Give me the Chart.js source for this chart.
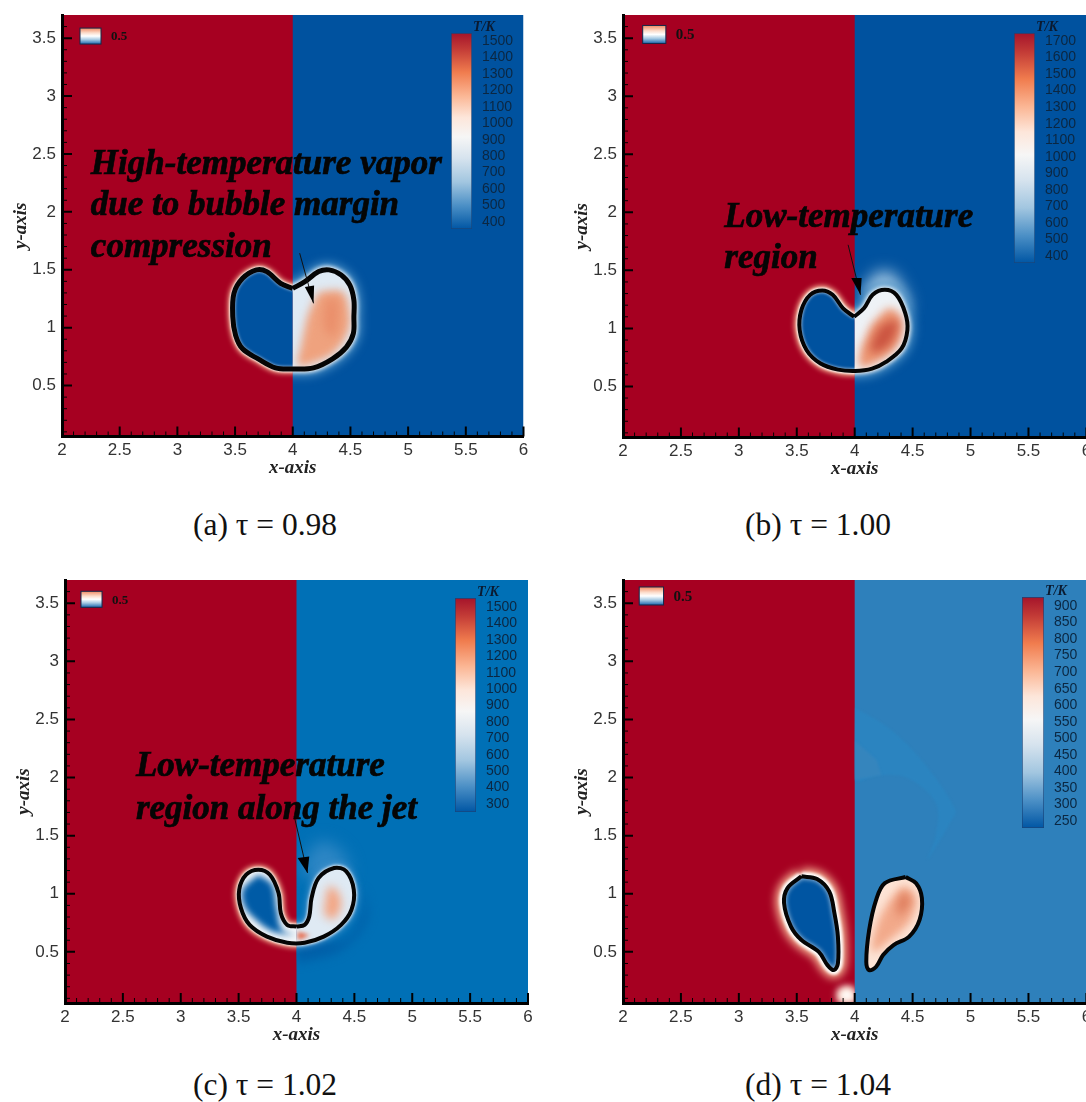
<!DOCTYPE html>
<html>
<head>
<meta charset="utf-8">
<script src="https://cdn.jsdelivr.net/npm/chart.js@4"></script>
<style>
html, body { margin: 0; padding: 0; background: #fff; width: 1086px; height: 1102px; overflow: hidden; }
canvas { position: absolute; filter: blur(0.5px); }
.caption { position: absolute; transform: translate(-50%, -50%); font: 31.5px "Liberation Serif", serif; color: #111; white-space: nowrap; }
</style>
</head>
<body>
<script>
// axis values
const xMajor = [2, 2.5, 3, 3.5, 4, 4.5, 5, 5.5, 6]
const xMinor = [2.1, 2.2, 2.3, 2.4, 2.6, 2.7, 2.8, 2.9, 3.1, 3.2, 3.3, 3.4, 3.6, 3.7, 3.8, 3.9, 4.1, 4.2, 4.3, 4.4, 4.6, 4.7, 4.8, 4.9, 5.1, 5.2, 5.3, 5.4, 5.6, 5.7, 5.8, 5.9]
const yMajor = [0.5, 1, 1.5, 2, 2.5, 3, 3.5]
const yMinor = [0.1, 0.2, 0.3, 0.4, 0.6, 0.7, 0.8, 0.9, 1.1, 1.2, 1.3, 1.4, 1.6, 1.7, 1.8, 1.9, 2.1, 2.2, 2.3, 2.4, 2.6, 2.7, 2.8, 2.9, 3.1, 3.2, 3.3, 3.4, 3.6]
const xMin = 2, xMid = 4, xMax = 6, yMin = 0.06, yMax = 3.7

// colour bar tick labels
const ticksA = [400, 500, 600, 700, 800, 900, 1000, 1100, 1200, 1300, 1400, 1500]
const ticksB = [400, 500, 600, 700, 800, 900, 1000, 1100, 1200, 1300, 1400, 1500, 1600, 1700]
const ticksC = [300, 400, 500, 600, 700, 800, 900, 1000, 1100, 1200, 1300, 1400, 1500]
const ticksD = [250, 300, 350, 400, 450, 500, 550, 600, 650, 700, 750, 800, 850, 900]

// bubble contours, [x, y]
const bubbleA = [[4,1.339],[4.105,1.397],[4.225,1.484],[4.315,1.499],[4.42,1.455],[4.495,1.368],[4.53,1.238],[4.53,1.093],[4.525,0.948],[4.465,0.832],[4.345,0.73],[4.18,0.652],[4,0.643],[3.85,0.652],[3.7,0.73],[3.565,0.817],[3.505,0.933],[3.48,1.093],[3.49,1.296],[3.565,1.426],[3.685,1.499],[3.775,1.484],[3.895,1.383],[4,1.339]]
const bubbleB = [[3.995,1.1],[4.08,1.173],[4.155,1.289],[4.26,1.332],[4.36,1.289],[4.437,1.13],[4.455,0.986],[4.405,0.827],[4.27,0.711],[4.15,0.653],[4.003,0.633],[3.855,0.645],[3.705,0.697],[3.585,0.812],[3.525,0.986],[3.54,1.159],[3.615,1.289],[3.72,1.327],[3.81,1.289],[3.9,1.173],[3.995,1.1]]
const bubbleC = [[4,0.718],[4.07,0.732],[4.11,0.804],[4.13,0.963],[4.19,1.135],[4.325,1.222],[4.43,1.193],[4.495,1.035],[4.475,0.862],[4.385,0.732],[4.235,0.631],[4.07,0.579],[3.92,0.579],[3.745,0.631],[3.595,0.732],[3.52,0.876],[3.505,1.035],[3.565,1.164],[3.67,1.207],[3.77,1.164],[3.845,1.006],[3.865,0.833],[3.92,0.732],[4,0.718]]
const dropLeftD = [[3.54,1.15],[3.675,1.127],[3.78,1.02],[3.825,0.833],[3.855,0.631],[3.855,0.4],[3.82,0.343],[3.765,0.386],[3.69,0.5],[3.54,0.602],[3.45,0.718],[3.39,0.919],[3.42,1.049],[3.54,1.15]]
const dropRightD = [[4.44,1.144],[4.53,1.09],[4.58,0.963],[4.56,0.775],[4.47,0.631],[4.335,0.559],[4.245,0.473],[4.185,0.372],[4.125,0.343],[4.1,0.415],[4.125,0.689],[4.185,0.948],[4.26,1.092],[4.44,1.144]]

// hot and cold regions inside the bubbles
const coreA = [[4.225,1.31],[4.43,1.31],[4.49,1.151],[4.485,0.977],[4.365,0.79],[4.165,0.69],[4.045,0.675],[4.075,0.861],[4.105,1.006],[4.135,1.122],[4.225,1.31]]
const hotA = [[4.29,1.25],[4.38,1.25],[4.4,1.1],[4.36,0.93],[4.28,0.98],[4.27,1.12],[4.29,1.25]]
const coreB = [[4.14,1.03],[4.305,1.173],[4.41,1.072],[4.38,0.87],[4.245,0.74],[4.05,0.668],[4.05,0.812],[4.095,0.928],[4.14,1.03]]
const hotB = [[4.23,1.03],[4.37,1.07],[4.33,0.9],[4.23,0.81],[4.14,0.8],[4.17,0.93],[4.23,1.03]]
const coreC = [[4.235,0.833],[4.28,1.063],[4.355,1.02],[4.385,0.89],[4.31,0.775],[4.235,0.833]]
const spotC = [[4.01,0.674],[4.115,0.645],[4.04,0.608],[4.006,0.608],[4.01,0.674]]
const coldC = [[3.67,1.164],[3.79,1.078],[3.83,0.862],[3.875,0.689],[4,0.645],[3.8,0.674],[3.65,0.775],[3.55,0.89],[3.535,1.035],[3.67,1.164]]
const coreD = [[4.425,1.07],[4.53,0.98],[4.485,0.775],[4.305,0.602],[4.155,0.5],[4.185,0.718],[4.305,0.948],[4.425,1.07]]
const hotD = [[4.425,1.04],[4.485,0.93],[4.38,0.79],[4.365,0.9],[4.425,1.04]]
const blobD = [[3.855,0.17],[3.945,0.2],[4,0.155],[4,0.07],[3.87,0.07],[3.855,0.17]]
const haloB = [[4.05,1.3],[4.2,1.48],[4.35,1.45],[4.47,1.15],[4.2,1.2],[4.05,1.3]]
const haloC = [[4.02,1.2],[4.2,1.45],[4.4,1.35],[4.45,1.15],[4.2,1.1],[4.02,1.2]]
const shadeC = [[4,0.65],[4.4,0.6],[4.58,0.85],[4.56,1.05],[4.62,0.8],[4.4,0.52],[4.1,0.42],[4,0.42],[4,0.65]]
const arcOuterD = [[4,2.6],[4.3,2.42],[4.6,2.12],[4.87,1.72],[4.84,1.64],[4.63,1.3],[4.7,1.5],[4.7,1.78],[4.45,2],[4.2,2.02],[4,1.98],[4,2.6]]
const arcInnerD = [[4,2.32],[4.19,2.15],[4.23,2.02],[4,1.98],[4,2.32]]

// arrows, shaft then head
const shaftA = [[4.06,1.643],[4.18,1.21]]
const headA = [[4.18,1.21],[4.105,1.35],[4.185,1.365],[4.18,1.21]]
const shaftB = [[3.943,1.72],[4.05,1.289]]
const headB = [[4.05,1.289],[3.97,1.434],[4.06,1.434],[4.05,1.289]]
const shaftC = [[3.98,1.668],[4.095,1.179]]
const headC = [[4.095,1.179],[4.01,1.308],[4.11,1.32],[4.095,1.179]]

const rectOf = (x0, x1) => [[x0, yMin], [x0, yMax], [x1, yMax], [x1, yMin], [x0, yMin]]
const toXY = pts => pts.map(p => ({x: p[0], y: p[1]}))

function fillLayer(pts, color, blur, side) {
    return {data: toXY(pts), showLine: true, pointRadius: 0, tension: pts.length > 5 ? 0.35 : 0, borderWidth: 0, borderColor: 'transparent', backgroundColor: color, fill: 'shape', blur: blur, side: side}
}
function lineLayer(pts, color, width, blur, side) {
    return {data: toXY(pts), showLine: true, pointRadius: 0, tension: pts.length > 2 ? 0.35 : 0, borderWidth: width, borderColor: color, borderJoinStyle: 'round', fill: false, blur: blur, side: side}
}

const RED = '#a60021', COLD = '#00529f', WHITE = '#ffffff', PEACH = '#f6b493', ORANGE = '#efa27e', INK = '#050505'

const layersA = [
    fillLayer(rectOf(xMin, xMax), COLD),
    fillLayer(rectOf(xMin, xMid), RED),
    lineLayer(bubbleA, '#4f94c8', 14, 5, 'right'),
    lineLayer(bubbleA, WHITE, 7, 2, 'right'),
    lineLayer(bubbleA, PEACH, 9, 2.5, 'left'),
    lineLayer(bubbleA, WHITE, 5, 1, 'left'),
    fillLayer(bubbleA, COLD, 0, 'left'),
    lineLayer(bubbleA, 'rgba(255,255,255,0.7)', 5, 1.5, 'left'),
    fillLayer(bubbleA, '#dfeaf4', 0, 'right'),
    fillLayer(coreA, ORANGE, 4, 'right'),
    fillLayer(hotA, '#ea8f6b', 5, 'right'),
    lineLayer(bubbleA, INK, 5),
    lineLayer(shaftA, '#111', 1),
    fillLayer(headA, '#000')
]
const layersB = [
    fillLayer(rectOf(xMin, xMax), COLD),
    fillLayer(rectOf(xMin, xMid), RED),
    fillLayer(haloB, '#a9cbe5', 8, 'right'),
    lineLayer(bubbleB, '#4f94c8', 14, 5, 'right'),
    lineLayer(bubbleB, WHITE, 6, 2, 'right'),
    lineLayer(bubbleB, PEACH, 10, 2.5, 'left'),
    lineLayer(bubbleB, WHITE, 5, 1, 'left'),
    fillLayer(bubbleB, COLD, 0, 'left'),
    lineLayer(bubbleB, 'rgba(255,255,255,0.7)', 4.5, 1.5, 'left'),
    fillLayer(bubbleB, '#eef2f6', 0, 'right'),
    fillLayer(coreB, '#ec9470', 4, 'right'),
    fillLayer(hotB, '#cb5440', 5, 'right'),
    lineLayer(bubbleB, INK, 4),
    lineLayer(shaftB, '#111', 1),
    fillLayer(headB, '#000')
]
const layersC = [
    fillLayer(rectOf(xMin, xMax), '#0070b6'),
    fillLayer(rectOf(xMin, xMid), RED),
    fillLayer(haloC, '#2d86c4', 8, 'right'),
    fillLayer(shadeC, '#0060a9', 5, 'right'),
    lineLayer(bubbleC, '#4d97cf', 8, 3, 'right'),
    lineLayer(bubbleC, WHITE, 5, 1.5, 'right'),
    lineLayer(bubbleC, PEACH, 9, 2.5, 'left'),
    lineLayer(bubbleC, WHITE, 5, 1, 'left'),
    fillLayer(bubbleC, '#f4f7fa', 0, 'left'),
    fillLayer(coldC, '#005ba6', 3, 'left'),
    fillLayer(bubbleC, '#dfeaf4', 0, 'right'),
    fillLayer(coreC, '#f3a583', 5, 'right'),
    fillLayer(spotC, '#e8694a', 2, 'right'),
    lineLayer(bubbleC, INK, 4),
    lineLayer(shaftC, '#111', 1),
    fillLayer(headC, '#000')
]
const layersD = [
    fillLayer(rectOf(xMin, xMax), '#2e80bb'),
    fillLayer(rectOf(xMin, xMid), RED),
    fillLayer(arcOuterD, '#2b84c0', 1, 'right'),
    fillLayer(arcInnerD, '#3585bd', 1, 'right'),
    fillLayer(blobD, PEACH, 3, 'left'),
    fillLayer(blobD, WHITE, 4, 'left'),
    lineLayer(dropLeftD, PEACH, 17, 4, 'left'),
    lineLayer(dropLeftD, WHITE, 9, 1.5, 'left'),
    fillLayer(dropLeftD, '#0055a2', 0, 'left'),
    lineLayer(dropLeftD, 'rgba(255,255,255,0.6)', 5, 2, 'left'),
    fillLayer(dropRightD, '#fde4d6', 0, 'right'),
    fillLayer(coreD, '#f2a98a', 4, 'right'),
    fillLayer(hotD, '#dc7858', 5, 'right'),
    lineLayer(dropLeftD, INK, 4),
    lineLayer(dropRightD, INK, 4)
]

// page layout of each panel, in pixels
const panels = [
    {name: 'a', caption: '(a) τ = 0.98', capX: 265, capY: 525, left: 62, right: 523.5, top: 15, bottom: 436.5, layers: layersA, ticks: ticksA,
        tMin: 357, tMax: 1549, barL: 451, barR: 472, barT: 33, barB: 229, swatch: [2.156, 2.338, 3.449, 3.587], swatchFont: 13,
        notes: [['High-temperature vapor', 2.25, 2.327], ['due to bubble margin', 2.25, 1.974], ['compression', 2.25, 1.61]]},
    {name: 'b', caption: '(b) τ = 1.00', capX: 818, capY: 525, left: 622.6, right: 1086, top: 15, bottom: 437.5, layers: layersB, ticks: ticksB,
        tMin: 358, tMax: 1748, barL: 1014, barR: 1035, barT: 33, barB: 263, swatch: [2.17, 2.37, 3.455, 3.61], swatchFont: 15,
        notes: [['Low-temperature', 2.875, 1.877], ['region', 2.875, 1.52]]},
    {name: 'c', caption: '(c) τ = 1.02', capX: 265, capY: 1085, left: 65, right: 528, top: 580, bottom: 1003, layers: layersC, ticks: ticksC,
        tMin: 251, tMax: 1555, barL: 455, barR: 476, barT: 598, barB: 812, swatch: [2.138, 2.32, 3.465, 3.603], swatchFont: 13,
        notes: [['Low-temperature', 2.613, 2.011], ['region along the jet', 2.613, 1.64]]},
    {name: 'd', caption: '(d) τ = 1.04', capX: 818, capY: 1085, left: 622.6, right: 1086, top: 580, bottom: 1003, layers: layersD, ticks: ticksD,
        tMin: 229, tMax: 927, barL: 1021.5, barR: 1043, barT: 597, barB: 828, swatch: [2.14, 2.35, 3.485, 3.64], swatchFont: 15,
        notes: []}
]

// blur and half-plane clip for a dataset, has to run before the filler
const fieldLayer = {
    id: 'fieldLayer',
    beforeDatasetDraw(chart, args) {
        const ds = chart.data.datasets[args.index]
        const ctx = chart.ctx
        ctx.save()
        if (ds.side) {
            const a = chart.chartArea
            const mid = chart.scales.x.getPixelForValue(xMid)
            ctx.beginPath()
            if (ds.side === 'left') ctx.rect(a.left, a.top, mid - a.left, a.bottom - a.top)
            else ctx.rect(mid, a.top, a.right - mid, a.bottom - a.top)
            ctx.clip()
        }
        if (ds.blur) ctx.filter = 'blur(' + ds.blur + 'px)'
    },
    afterDatasetDraw(chart) {
        chart.ctx.restore()
    }
}
const filler = Chart.registry.getPlugin('filler')
Chart.unregister(filler)
Chart.register(fieldLayer)
Chart.register(filler)

// ticks pointing inwards, 0.5 legend and the annotations
const plotMarks = {
    id: 'plotMarks',
    afterDatasetsDraw(chart, args, opts) {
        const ctx = chart.ctx, xs = chart.scales.x, ys = chart.scales.y, a = chart.chartArea
        const s = opts.panel.swatch
        const sx = xs.getPixelForValue(s[0]), sr = xs.getPixelForValue(s[1])
        const st = ys.getPixelForValue(s[3]), sb = ys.getPixelForValue(s[2])
        const g = ctx.createLinearGradient(0, st, 0, sb)
        g.addColorStop(0, '#f08a62')
        g.addColorStop(0.3, '#fcdccb')
        g.addColorStop(0.5, '#ffffff')
        g.addColorStop(0.72, '#a8cbe4')
        g.addColorStop(1, '#1c68ae')
        ctx.fillStyle = g
        ctx.fillRect(sx, st, sr - sx, sb - st)
        ctx.strokeStyle = '#14284a'
        ctx.lineWidth = 1
        ctx.strokeRect(sx, st, sr - sx, sb - st)
        ctx.fillStyle = '#111'
        ctx.font = 'bold ' + opts.panel.swatchFont + 'px "Liberation Serif"'
        ctx.textBaseline = 'middle'
        ctx.textAlign = 'left'
        ctx.fillText('0.5', sr + 10, (st + sb) / 2 + 1)

        ctx.fillStyle = '#050505'
        ctx.strokeStyle = '#050505'
        ctx.lineWidth = 0.7
        ctx.font = 'italic bold 35px "Liberation Serif"'
        ctx.textBaseline = 'alphabetic'
        opts.panel.notes.forEach(n => {
            ctx.fillText(n[0], xs.getPixelForValue(n[1]), ys.getPixelForValue(n[2]))
            ctx.strokeText(n[0], xs.getPixelForValue(n[1]), ys.getPixelForValue(n[2]))
        })

        ctx.strokeStyle = '#000'
        const mark = (vals, horizontal, len, w) => {
            ctx.lineWidth = w
            ctx.beginPath()
            vals.forEach(v => {
                if (horizontal) {
                    const px = xs.getPixelForValue(v)
                    ctx.moveTo(px, a.bottom)
                    ctx.lineTo(px, a.bottom - len)
                } else {
                    const py = ys.getPixelForValue(v)
                    ctx.moveTo(a.left, py)
                    ctx.lineTo(a.left + len, py)
                }
            })
            ctx.stroke()
        }
        mark(xMinor, true, 5, 1)
        mark(yMinor, false, 5, 1)
        mark(xMajor, true, 10, 2)
        mark(yMajor, false, 10, 2)
    }
}

const barLabel = {
    id: 'barLabel',
    afterDraw(chart) {
        const ctx = chart.ctx, a = chart.chartArea
        ctx.save()
        ctx.fillStyle = '#0a1a30'
        ctx.font = 'italic bold 14px "Liberation Serif"'
        ctx.textAlign = 'center'
        ctx.textBaseline = 'alphabetic'
        ctx.fillText('T/K', a.right + 12, a.top - 2)
        ctx.restore()
    }
}

function addCanvas(left, top, w, h) {
    const c = document.createElement('canvas')
    c.width = w
    c.height = h
    c.style.left = left + 'px'
    c.style.top = top + 'px'
    c.style.width = w + 'px'
    c.style.height = h + 'px'
    document.body.appendChild(c)
    return c
}

function noPadding(s) {
    s.paddingTop = 0
    s.paddingBottom = 0
    s.paddingLeft = 0
    s.paddingRight = 0
}

function drawPanel(p) {
    const axisW = 60, topPad = 8, rightPad = 14, axisH = 50
    const plotW = p.right - p.left, plotH = p.bottom - p.top
    const canvas = addCanvas(p.left - axisW, p.top - topPad, Math.ceil(axisW + plotW + rightPad), Math.ceil(topPad + plotH + axisH))
    const tickFont = {family: '"Liberation Sans"', size: 17}
    const titleFont = {family: '"Liberation Serif"', size: 19, style: 'italic', weight: 'bold'}
    new Chart(canvas, {
        type: 'scatter',
        // first dataset is painted last in Chart.js
        data: {datasets: p.layers.slice().reverse()},
        plugins: [plotMarks],
        options: {
            responsive: false,
            animation: false,
            devicePixelRatio: 1,
            layout: {padding: {top: topPad, right: canvas.width - axisW - plotW, bottom: canvas.height - topPad - plotH - axisH, left: 0}},
            plugins: {legend: {display: false}, tooltip: {enabled: false}, plotMarks: {panel: p}},
            scales: {
                x: {
                    type: 'linear', min: xMin, max: xMax,
                    afterBuildTicks: s => { s.ticks = xMajor.map(v => ({value: v})) },
                    afterFit: s => { s.height = axisH; noPadding(s) },
                    grid: {display: true, drawOnChartArea: false, drawTicks: false},
                    border: {display: true, color: '#000', width: 3, z: 5},
                    ticks: {font: tickFont, color: '#333', padding: 4, autoSkip: false, maxRotation: 0, callback: v => String(v)},
                    title: {display: true, text: 'x-axis', font: titleFont, color: '#222', padding: {top: 0, bottom: 7}}
                },
                y: {
                    type: 'linear', min: yMin, max: yMax,
                    afterBuildTicks: s => { s.ticks = yMajor.map(v => ({value: v})) },
                    afterFit: s => { s.width = axisW; noPadding(s) },
                    grid: {display: true, drawOnChartArea: false, drawTicks: false},
                    border: {display: true, color: '#000', width: 3, z: 5},
                    ticks: {font: tickFont, color: '#333', padding: 6, autoSkip: false, callback: v => String(v)},
                    title: {display: true, text: 'y-axis', font: titleFont, color: '#222', padding: {top: 8, bottom: 0}}
                }
            }
        }
    })

    // colour bar, its own small chart over the plot
    const barW = p.barR - p.barL, labelW = 44, barTop = 16
    const barCanvas = addCanvas(p.barL, p.barT - barTop, Math.ceil(barW + labelW), Math.ceil(p.barB - p.barT + barTop + 2))
    new Chart(barCanvas, {
        type: 'bar',
        data: {
            labels: ['T'],
            datasets: [{
                data: [[p.tMin, p.tMax]],
                barPercentage: 1,
                categoryPercentage: 1,
                borderWidth: 1,
                borderColor: '#17467c',
                borderSkipped: false,
                backgroundColor: ctx => {
                    const a = ctx.chart.chartArea
                    if (!a) return '#ffffff'
                    const g = ctx.chart.ctx.createLinearGradient(0, a.top, 0, a.bottom)
                    g.addColorStop(0, '#a5142b')
                    g.addColorStop(0.08, '#c23a36')
                    g.addColorStop(0.2, '#f07c4e')
                    g.addColorStop(0.32, '#fbb694')
                    g.addColorStop(0.43, '#fde6da')
                    g.addColorStop(0.53, '#f6f6f6')
                    g.addColorStop(0.64, '#d6e3ee')
                    g.addColorStop(0.76, '#a2c6e0')
                    g.addColorStop(0.88, '#4c90c6')
                    g.addColorStop(1, '#0056a4')
                    return g
                }
            }]
        },
        plugins: [barLabel],
        options: {
            responsive: false,
            animation: false,
            devicePixelRatio: 1,
            layout: {padding: {top: barTop, bottom: 2, left: 0, right: 0}},
            plugins: {legend: {display: false}, tooltip: {enabled: false}},
            scales: {
                x: {display: false},
                y: {
                    position: 'right', min: p.tMin, max: p.tMax,
                    afterBuildTicks: s => { s.ticks = p.ticks.map(v => ({value: v})) },
                    afterFit: s => { s.width = labelW; noPadding(s) },
                    grid: {display: false, drawTicks: false},
                    border: {display: false},
                    ticks: {font: {family: '"Liberation Sans"', size: 14}, color: '#0b2742', padding: 10, autoSkip: false, callback: v => String(v)}
                }
            }
        }
    })

    const cap = document.createElement('div')
    cap.className = 'caption'
    cap.textContent = p.caption
    cap.style.left = p.capX + 'px'
    cap.style.top = p.capY + 'px'
    document.body.appendChild(cap)
}

panels.forEach(drawPanel)
</script>
</body>
</html>
